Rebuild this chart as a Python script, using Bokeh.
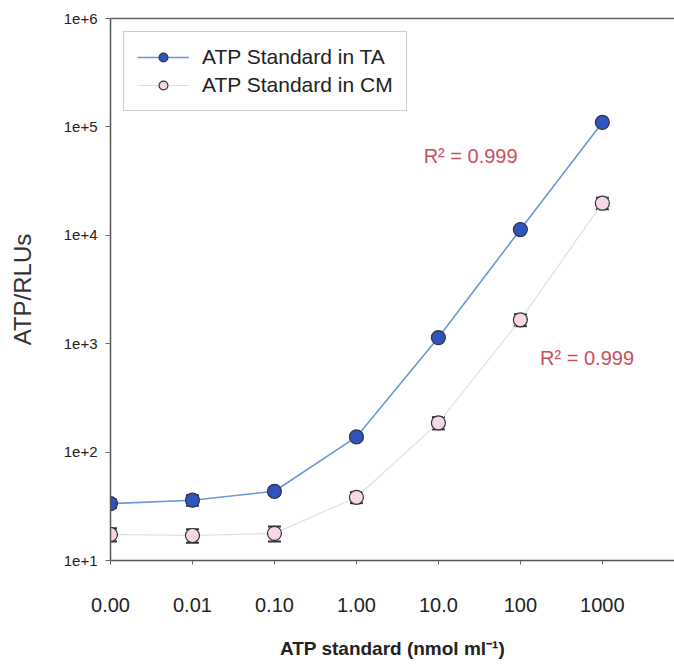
from bokeh.plotting import figure
from bokeh.models import (ColumnDataSource, Whisker, Label, Legend, LegendItem,
                          LinearAxis, FixedTicker, CustomJSTickFormatter, Range1d)
from bokeh.embed import file_html
from bokeh.resources import INLINE

# ---- data ----
categories = ["0.00", "0.01", "0.10", "1.00", "10.0", "100", "1000"]
ta_values = [33.5, 36, 43.5, 138, 1140, 11300, 110000]
ta_err = [3, 4, 3, 9, 60, 600, 5000]
cm_values = [17.4, 17.0, 17.8, 38.3, 186, 1660, 19800]
cm_err = [2.4, 2.4, 2.8, 4.5, 24, 210, 2400]
r2_labels = ["R² = 0.999", "R² = 0.999"]
y_ticks = [10, 100, 1000, 10000, 100000, 1000000]

FONT = "Liberation Sans"
xs = list(range(len(categories)))

ta_src = ColumnDataSource(dict(
    x=xs, y=ta_values,
    lo=[v - e for v, e in zip(ta_values, ta_err)],
    hi=[v + e for v, e in zip(ta_values, ta_err)]))
cm_src = ColumnDataSource(dict(
    x=xs, y=cm_values,
    lo=[v - e for v, e in zip(cm_values, cm_err)],
    hi=[v + e for v, e in zip(cm_values, cm_err)]))

p = figure(width=674, height=669, y_axis_type="log",
           x_range=Range1d(0, 6.88), y_range=Range1d(10, 1e6),
           output_backend="svg", toolbar_location=None,
           min_border_left=110, min_border_top=18, min_border_right=0,
           min_border_bottom=109)
p.outline_line_color = None
p.grid.grid_line_color = None
p.background_fill_color = "white"
p.border_fill_color = "white"

# x axis (below)
xa = p.below[0]
xa.ticker = FixedTicker(ticks=xs)
xa.major_label_overrides = {i: c for i, c in enumerate(categories)}
xa.major_label_text_font = FONT
xa.major_label_text_font_size = "20px"
xa.major_label_text_color = "#222222"
xa.major_label_standoff = 33
xa.major_tick_out = 4
xa.major_tick_in = 0
xa.major_tick_line_color = "#666666"
xa.minor_tick_line_color = None
xa.axis_line_color = "#555555"
xa.axis_line_width = 1.5
xa.axis_label = "ATP standard (nmol ml⁻¹)"
xa.axis_label_text_font = FONT
xa.axis_label_text_font_style = "bold"
xa.axis_label_text_font_size = "19px"
xa.axis_label_text_color = "#222222"
xa.axis_label_standoff = 23

# top border line
top = LinearAxis(ticker=FixedTicker(ticks=[]), axis_line_color="#666666",
                 axis_line_width=1.5, major_tick_line_color=None,
                 minor_tick_line_color=None, major_label_text_font_size="0px",
                 major_label_standoff=0, major_tick_out=0)
p.add_layout(top, "above")

# y axis
ya = p.left[0]
ya.ticker = FixedTicker(ticks=y_ticks)
ya.formatter = CustomJSTickFormatter(code="return '1e+' + Math.round(Math.log10(tick));")
ya.major_label_text_font = FONT
ya.major_label_text_font_size = "15px"
ya.major_label_text_color = "#222222"
ya.major_label_standoff = 8
ya.major_tick_out = 5
ya.major_tick_in = 0
ya.major_tick_line_color = "#666666"
ya.minor_tick_line_color = None
ya.axis_line_color = "#555555"
ya.axis_line_width = 1.5
ya.axis_label = "ATP/RLUs"
ya.axis_label_text_font = FONT
ya.axis_label_text_font_style = "normal"
ya.axis_label_text_font_size = "24px"
ya.axis_label_text_color = "#333333"
ya.axis_label_standoff = 25

# lines
ta_line = p.line("x", "y", source=ta_src, line_color="#6a98d8", line_width=1.6)
cm_line = p.line("x", "y", source=cm_src, line_color="#e0e0e0", line_width=1.2)

# error bars
for src in (ta_src, cm_src):
    w = Whisker(source=src, base="x", lower="lo", upper="hi",
                line_color="#333333", line_width=1.5)
    w.upper_head.size = 13
    w.lower_head.size = 13
    w.upper_head.line_color = "#333333"
    w.lower_head.line_color = "#333333"
    w.upper_head.line_width = 2
    w.lower_head.line_width = 2
    p.add_layout(w)

ta_pts = p.scatter("x", "y", source=ta_src, size=14, fill_color="#2d55bd",
                   line_color="#333344", line_width=1.2)
cm_pts = p.scatter("x", "y", source=cm_src, size=14, fill_color="#f6d8e8",
                   line_color="#333333", line_width=1.2)

# R^2 annotations
p.add_layout(Label(x=3.82, y=5.4e4, text=r2_labels[0], text_color="#c8505c",
                   text_font=FONT, text_font_size="20px", text_baseline="middle"))
p.add_layout(Label(x=5.24, y=740, text=r2_labels[1], text_color="#c8505c",
                   text_font=FONT, text_font_size="20px", text_baseline="middle"))

legend = Legend(items=[
    LegendItem(label="ATP Standard in TA", renderers=[ta_line, ta_pts]),
    LegendItem(label="ATP Standard in CM", renderers=[cm_line, cm_pts]),
], location="top_left")
legend.label_text_font = FONT
legend.label_text_font_size = "21px"
legend.label_text_color = "#222222"
legend.glyph_width = 52
legend.glyph_height = 22
legend.label_standoff = 13
legend.spacing = 4
legend.padding = 13
legend.margin = 13
legend.border_line_color = "#999999"
legend.border_line_width = 1
legend.background_fill_color = "white"
legend.background_fill_alpha = 1
p.add_layout(legend, "center")

open("out.html", "w").write(file_html(p, INLINE))
